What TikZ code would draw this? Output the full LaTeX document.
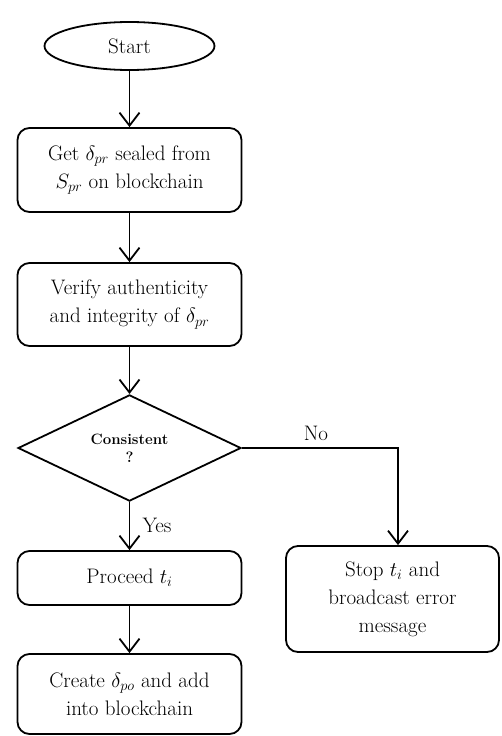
\documentclass[tikz,border=0pt]{standalone}
\usepackage{amsmath}
\usepackage{tikz}
\usetikzlibrary{shapes.geometric,arrows.meta}
\tikzstyle{node:terminal}=[ellipse,draw,line width=1.8pt,minimum width=170pt,minimum height=48pt,inner sep=0pt]
\tikzstyle{node:process}=[rectangle,draw,line width=1.8pt,rounded corners=12pt,minimum width=224pt,align=center,inner sep=0pt]
\tikzstyle{node:decision}=[diamond,draw,line width=1.8pt,minimum width=223pt,minimum height=104pt,inner sep=0pt,align=center,font=\fontsize{15}{18}\selectfont\bfseries]
\tikzstyle{draw:connection}=[-{Straight Barb[length=13pt,width=20pt,line width=1.8pt]}, line width=1.8pt]

\begin{document}
\begin{tikzpicture}[x=1pt,y=-1pt,font=\fontsize{21}{28}\selectfont]
        \useasboundingbox (0,0) rectangle (501,736);

        % Main column
        \node[node:terminal] (start) at (129.5,46) {Start};
        \node[node:process,minimum height=84pt] (get) at (129.5,170) {Get $\delta_{pr}$ sealed from\\$S_{pr}$ on blockchain};
        \node[node:process,minimum height=83pt] (verify) at (129.5,304.5) {Verify authenticity\\and integrity of $\delta_{pr}$};
        \node[node:decision] (check) at (129.5,448) {Consistent\\?};
        \node[node:process,minimum height=54pt] (proceed) at (129.5,578) {Proceed $t_i$};
        \node[node:process,minimum height=80pt] (create) at (129.5,694) {Create $\delta_{po}$ and add\\into blockchain};

        % Error branch
        \node[node:process,minimum width=213pt,minimum height=106pt] (stop) at (392.5,599) {Stop $t_i$ and\\broadcast error\\message};
        \coordinate (turn) at (398,448);

        % Connections
        \draw[draw:connection] (start) -- (get);
        \draw[draw:connection] (get) -- (verify);
        \draw[draw:connection] (verify) -- (check);
        \draw[draw:connection] (check) -- (proceed);
        \draw[draw:connection] (proceed) -- (create);
        \draw[draw:connection] (check.east) -- (turn) -- (turn |- stop.north);

        % Labels
        \node at (316,433) {No};
        \node at (157,525) {Yes};

    \end{tikzpicture}
\end{document}
